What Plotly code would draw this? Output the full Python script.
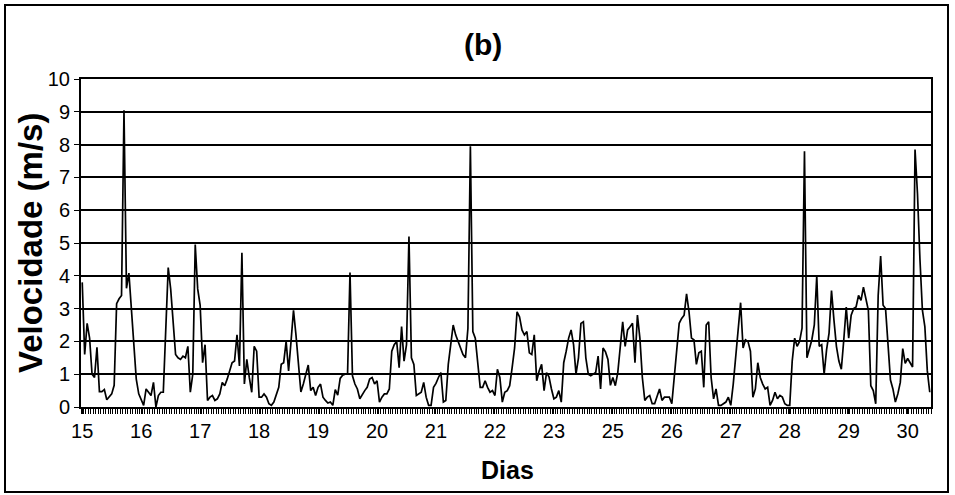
import plotly.graph_objects as go

# Hourly wind speed (m/s), one value per hour
velocidade = [
    3.8, 1.6, 2.55, 2.1, 1.0, 0.9, 1.82, 0.47, 0.47, 0.53, 0.22, 0.3,
    0.4, 0.66, 3.15, 3.3, 3.4, 9.05, 3.62, 4.08, 3.0, 2.0, 0.85, 0.4,
    0.2, 0.05, 0.55, 0.45, 0.35, 0.75, 0.0, 0.35, 0.45, 0.45, 2.3, 4.25,
    3.6, 2.6, 1.6, 1.5, 1.45, 1.55, 1.5, 1.85, 0.45, 1.0, 4.95, 3.6,
    3.1, 1.35, 1.9, 0.2, 0.3, 0.35, 0.2, 0.25, 0.4, 0.75, 0.65, 0.85,
    1.1, 1.35, 1.4, 2.2, 1.25, 4.7, 0.7, 1.45, 0.9, 0.45, 1.85, 1.7,
    0.3, 0.3, 0.4, 0.3, 0.1, 0.05, 0.15, 0.4, 0.6, 1.3, 1.35, 2.0,
    1.1, 2.0, 2.95, 2.2, 1.4, 0.46, 0.7, 1.0, 1.28, 0.5, 0.6, 0.35,
    0.6, 0.7, 0.3, 0.2, 0.12, 0.15, 0.05, 0.53, 0.36, 0.87, 0.97, 1.0,
    1.0, 4.1, 0.95, 0.7, 0.55, 0.25, 0.4, 0.5, 0.6, 0.85, 0.9, 0.7,
    0.8, 0.15, 0.3, 0.4, 0.4, 0.55, 1.7, 1.9, 2.0, 1.2, 2.45, 1.4,
    1.9, 5.2, 1.5, 1.3, 0.35, 0.4, 0.45, 0.75, 0.3, 0.05, 0.05, 0.6,
    0.72, 0.9, 1.05, 0.15, 0.2, 1.3, 2.0, 2.5, 2.2, 2.0, 1.8, 1.6,
    1.5, 2.4, 7.95, 2.3, 2.1, 1.4, 0.6, 0.6, 0.8, 0.6, 0.45, 0.5,
    0.35, 1.15, 0.9, 0.15, 0.45, 0.5, 0.65, 1.2, 1.8, 2.9, 2.75, 2.35,
    2.2, 2.3, 1.65, 1.6, 2.2, 0.8, 1.1, 1.3, 0.5, 1.05, 0.92, 0.55,
    0.25, 0.3, 0.5, 0.15, 1.35, 1.7, 2.1, 2.35, 1.9, 1.0, 1.5, 2.55,
    2.6, 1.5, 1.0, 0.95, 1.0, 1.05, 1.55, 0.55, 1.8, 1.68, 1.45, 0.66,
    0.9, 0.65, 1.05, 1.8, 2.6, 1.85, 2.35, 2.45, 2.55, 1.35, 2.8, 2.1,
    0.9, 0.2, 0.3, 0.35, 0.1, 0.1, 0.3, 0.55, 0.2, 0.3, 0.3, 0.3,
    0.1, 0.9, 1.9, 2.55, 2.7, 2.8, 3.45, 2.9, 2.1, 2.05, 1.3, 1.65,
    1.7, 0.6, 2.5, 2.6, 0.9, 0.25, 0.55, 0.05, 0.05, 0.1, 0.15, 0.3,
    0.05, 0.7, 1.6, 2.5, 3.18, 1.8, 2.05, 2.0, 1.7, 0.3, 0.55, 1.35,
    0.9, 0.7, 0.55, 0.6, 0.05, 0.2, 0.45, 0.25, 0.35, 0.3, 0.1, 0.05,
    0.05, 1.4, 2.1, 1.85, 2.0, 2.4, 7.8, 1.5, 1.75, 2.05, 2.5, 4.0,
    1.85, 1.9, 1.0, 1.75, 2.25, 3.55, 2.65, 1.85, 1.4, 1.15, 2.05, 3.05,
    2.1, 2.8, 3.0, 3.05, 3.4, 3.25, 3.65, 3.3, 2.95, 0.65, 0.5, 0.1,
    3.4, 4.6, 3.1, 3.0, 1.9, 0.82, 0.55, 0.15, 0.4, 0.75, 1.78, 1.33,
    1.48, 1.33, 1.22, 7.85, 6.5, 4.5, 2.95, 2.45, 1.1, 0.45,
]
horas = list(range(len(velocidade)))

# Day labels shown every 24 hourly categories
dias_labels = ["15", "16", "17", "18", "19", "20", "21", "22", "23",
               "25", "26", "27", "28", "29", "30"]
dias_pos = [24 * k for k in range(len(dias_labels))]

y_ticks = list(range(0, 11))

FONT = "Liberation Sans, Arial, sans-serif"

fig = go.Figure()
fig.add_trace(go.Scatter(
    x=horas, y=velocidade, mode="lines",
    line=dict(color="black", width=1.7),
    showlegend=False, hoverinfo="skip",
))

W, H = 955, 495
L, R, T, B = 81, 24, 79, 88
pw, ph = W - L - R, H - T - B


def px_x(p):
    return (p - L) / pw


def px_y(p):
    return (H - B - p) / ph


fig.update_layout(
    width=W, height=H,
    margin=dict(l=L, r=R, t=T, b=B, pad=0),
    paper_bgcolor="white", plot_bgcolor="white",
    font=dict(family=FONT, color="black", size=20),
    xaxis=dict(
        range=[-0.5, len(velocidade) - 0.5],
        tickmode="array", tickvals=dias_pos, ticktext=dias_labels,
        ticks="outside", ticklen=5, tickwidth=1, tickcolor="black",
        minor=dict(dtick=1, tick0=0.5, ticks="outside", ticklen=5,
                   tickwidth=1, tickcolor="black", showgrid=False),
        showgrid=False, zeroline=False,
        showline=True, linecolor="black", linewidth=2, mirror=True,
        tickfont=dict(size=20, family=FONT),
    ),
    yaxis=dict(
        range=[0, 10], tickmode="array", tickvals=y_ticks,
        ticks="outside", ticklen=5, tickwidth=1, tickcolor="black",
        showgrid=True, gridcolor="black", gridwidth=1.6,
        zeroline=False,
        showline=True, linecolor="black", linewidth=2, mirror=True,
        tickfont=dict(size=20, family=FONT),
    ),
    annotations=[
        dict(text="<b>(b)</b>", xref="paper", yref="paper",
             x=px_x(483), y=px_y(45), showarrow=False,
             font=dict(size=30, family=FONT), xanchor="center", yanchor="middle"),
        dict(text="<b>Dias</b>", xref="paper", yref="paper",
             x=px_x(507), y=px_y(470), showarrow=False,
             font=dict(size=25, family=FONT), xanchor="center", yanchor="middle"),
        dict(text="<b>Velocidade (m/s)</b>", xref="paper", yref="paper",
             x=px_x(30), y=px_y(243), showarrow=False, textangle=-90,
             font=dict(size=33, family=FONT), xanchor="center", yanchor="middle"),
    ],
    shapes=[
        dict(type="rect", xref="paper", yref="paper",
             x0=px_x(5), x1=px_x(948), y0=px_y(492), y1=px_y(5),
             line=dict(color="black", width=2), fillcolor="rgba(0,0,0,0)",
             layer="above"),
    ],
)

fig.write_html("out.html")
